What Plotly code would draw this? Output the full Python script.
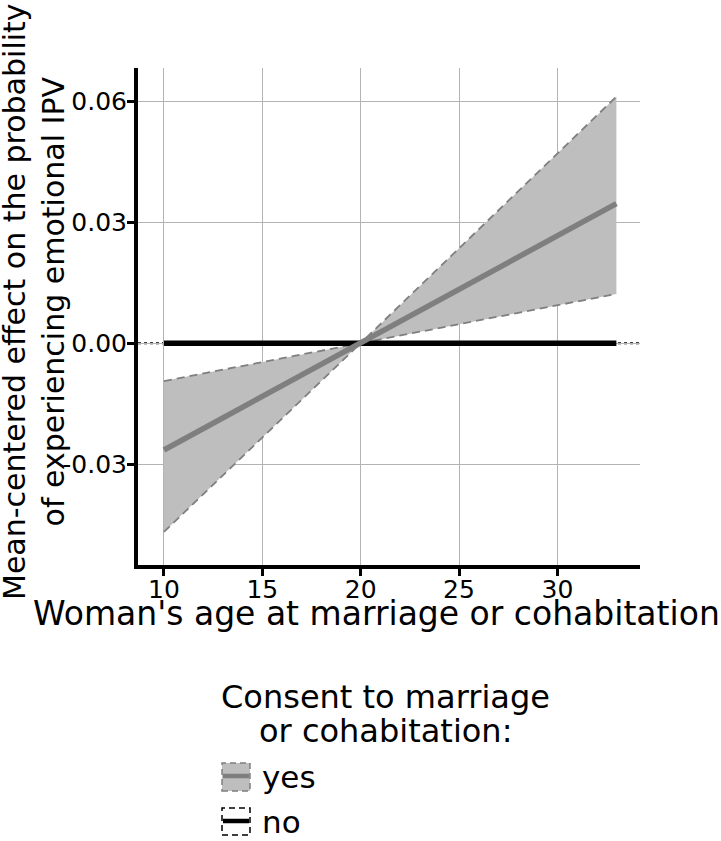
import plotly.graph_objects as go

# ---- data ----
age = [10, 20, 33]
yes_mean = [-0.0265, 0.0, 0.0346]
yes_upper = [-0.0094, 0.0, 0.0611]
yes_lower = [-0.0468, 0.0, 0.0122]
no_mean = [0.0, 0.0, 0.0]

x_ticks = [10, 15, 20, 25, 30]
x_ticktext = ["10", "15", "20", "25", "30"]
y_ticks = [-0.03, 0.0, 0.03, 0.06]
y_ticktext = ["-0.03", "0.00", "0.03", "0.06"]

x_title = "Woman's age at marriage or cohabitation"
y_title = "Mean-centered effect on the probability<br>of experiencing emotional IPV"
legend_title_1 = "Consent to marriage"
legend_title_2 = "or cohabitation:"
legend_labels = ["yes", "no"]

FONT = "DejaVu Sans"
GRAY_FILL = "#bebebe"
GRAY_LINE = "#7f7f7f"

W, H = 721, 841
L, R, T, B = 138, 640, 68, 565  # plot area in px


def px(xp):
    return (xp - L) / (R - L)


def py(yp):
    return (B - yp) / (B - T)


fig = go.Figure()

# band fill
fig.add_trace(go.Scatter(
    x=age + age[::-1], y=yes_upper + yes_lower[::-1],
    fill="toself", fillcolor=GRAY_FILL, line=dict(width=0),
    mode="lines", showlegend=False, hoverinfo="skip"))
# dashed band edges
for edge in (yes_upper, yes_lower):
    fig.add_trace(go.Scatter(
        x=age, y=edge, mode="lines",
        line=dict(color=GRAY_LINE, width=1.8, dash="8px,5px"),
        showlegend=False, hoverinfo="skip"))
# "no" reference line
fig.add_trace(go.Scatter(
    x=age, y=no_mean, mode="lines",
    line=dict(color="black", width=5.5), showlegend=False, name="no"))
# "yes" mean line
fig.add_trace(go.Scatter(
    x=age, y=yes_mean, mode="lines",
    line=dict(color=GRAY_LINE, width=5.5), showlegend=False, name="yes"))

shapes = []
# dotted zero line across panel
shapes.append(dict(type="line", xref="paper", yref="y", x0=0, x1=1, y0=0, y1=0,
                   line=dict(color="black", width=2, dash="dot"), layer="below"))

# manual legend keys
def key(y_top, y_bot, fill, border, line_color, line_y):
    shapes.append(dict(type="rect", xref="paper", yref="paper",
                       x0=px(222), x1=px(250), y0=py(y_bot), y1=py(y_top),
                       fillcolor=fill, line=dict(color=border, width=1.5, dash="6px,4px")))
    shapes.append(dict(type="line", xref="paper", yref="paper",
                       x0=px(223), x1=px(249), y0=py(line_y), y1=py(line_y),
                       line=dict(color=line_color, width=4.5)))

key(763, 791, GRAY_FILL, GRAY_LINE, GRAY_LINE, 776)
key(808, 835, "white", "black", "black", 821)

annotations = [
    dict(text=x_title, xref="paper", yref="paper", x=px(376), y=py(613),
         xanchor="center", yanchor="middle", showarrow=False,
         font=dict(family=FONT, size=33, color="black")),
    dict(text=y_title, xref="paper", yref="paper", x=px(34), y=py(302),
         xanchor="center", yanchor="middle", showarrow=False, textangle=-90,
         font=dict(family=FONT, size=30, color="black")),
    dict(text=legend_title_1, xref="paper", yref="paper", x=px(385), y=py(697),
         xanchor="center", yanchor="middle", showarrow=False,
         font=dict(family=FONT, size=32, color="black")),
    dict(text=legend_title_2, xref="paper", yref="paper", x=px(385), y=py(731),
         xanchor="center", yanchor="middle", showarrow=False,
         font=dict(family=FONT, size=32, color="black")),
    dict(text=legend_labels[0], xref="paper", yref="paper", x=px(260), y=py(777),
         xanchor="left", yanchor="middle", showarrow=False,
         font=dict(family=FONT, size=31, color="black")),
    dict(text=legend_labels[1], xref="paper", yref="paper", x=px(260), y=py(822),
         xanchor="left", yanchor="middle", showarrow=False,
         font=dict(family=FONT, size=31, color="black")),
]

fig.update_layout(
    width=W, height=H,
    margin=dict(l=L, r=W - R, t=T, b=H - B, pad=0),
    paper_bgcolor="white", plot_bgcolor="white",
    font=dict(family=FONT, color="black"),
    shapes=shapes, annotations=annotations,
    xaxis=dict(range=[8.68, 34.2], tickvals=x_ticks, ticktext=x_ticktext,
               showgrid=True, gridcolor="#b3b3b3", gridwidth=1, zeroline=False,
               showline=True, linecolor="black", linewidth=4,
               ticks="outside", ticklen=7, tickwidth=2.5, tickcolor="black",
               tickfont=dict(family=FONT, size=25, color="black"),
               ticklabelstandoff=-8, automargin=False),
    yaxis=dict(range=[-0.055, 0.0682], tickvals=y_ticks, ticktext=y_ticktext,
               showgrid=True, gridcolor="#b3b3b3", gridwidth=1, zeroline=False,
               showline=True, linecolor="black", linewidth=4,
               ticks="outside", ticklen=7, tickwidth=2.5, tickcolor="black",
               tickfont=dict(family=FONT, size=25, color="black"),
               ticklabelstandoff=-5, automargin=False),
    showlegend=False,
)

fig.write_html("out.html", config={"displayModeBar": False},
               post_script="document.body.style.margin='0';")
